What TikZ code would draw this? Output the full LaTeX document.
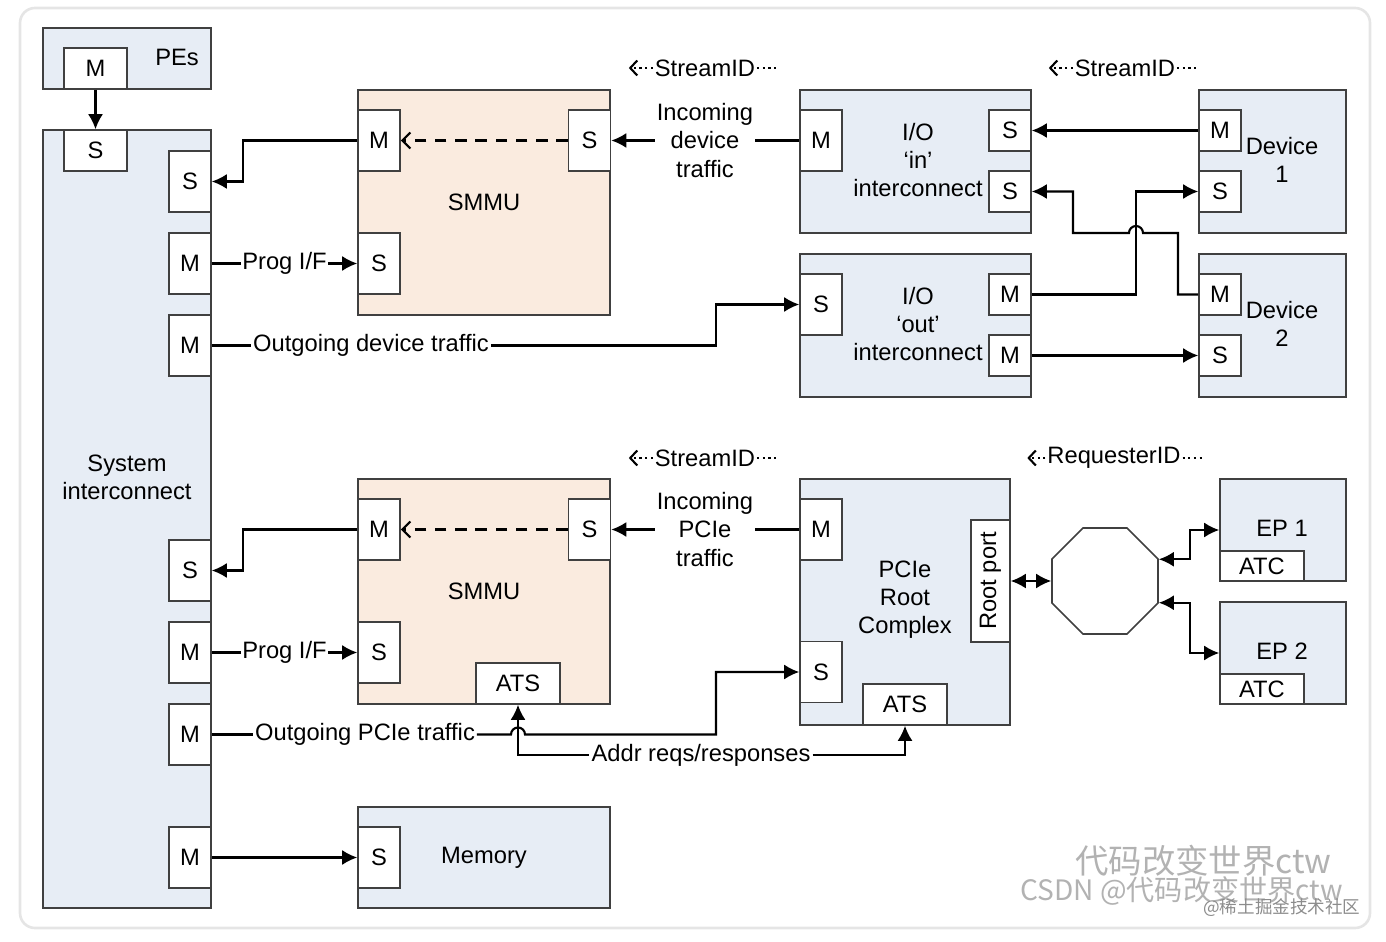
\documentclass[tikz,border=0pt]{standalone}
\usepackage{fontspec}
\setmainfont{Liberation Sans}
\newfontfamily\cjkfont{Noto Sans CJK SC}
\usetikzlibrary{arrows.meta,shapes.geometric}

\definecolor{blkblue}{HTML}{E7EDF5}
\definecolor{blkpeach}{HTML}{FAEBDF}
\definecolor{edgegray}{HTML}{404040}

\begin{document}
\begin{tikzpicture}[x=0.02cm,y=-0.02cm,
  font=\fontsize{13.5}{16}\selectfont,
  blk/.style={draw=edgegray,line width=0.9pt,inner sep=0pt},
  port/.style={draw=edgegray,line width=0.9pt,fill=white,minimum width=0.84cm,minimum height=1.22cm,inner sep=0pt},
  sport/.style={port,minimum height=0.82cm},
  lbl/.style={inner sep=1pt,align=center},
  wire/.style={line width=1.2pt},
  arr/.style={wire,-{Latex[length=3mm,width=3mm]}},
  dbl/.style={wire,{Latex[length=3mm,width=3mm]}-{Latex[length=3mm,width=3mm]}},
  dsh/.style={wire,dash pattern=on 6.5pt off 5pt,-{Straight Barb[length=1.6mm,width=3.2mm]}},
  dots/.style={line width=1.2pt,dotted},
  wmark/.style={text=black!30,inner sep=0pt,anchor=west}]
\useasboundingbox (0,0) rectangle (1386,942);
\draw[draw=black!10,line width=1.5pt,rounded corners=0.3cm] (20,8) rectangle (1370,928);

% PEs and system interconnect
\node[blk,fill=blkblue,minimum width=3.36cm,minimum height=1.22cm] (pes) at (127,58.5) {};
\node[lbl] (pesl) at (177,57) {PEs};
\node[sport,minimum width=1.26cm] (pesM) at (95.5,68.5) {M};
\node[blk,fill=blkblue,minimum width=3.36cm,minimum height=15.56cm] (sys) at (127,519) {};
\node[lbl] (sysl) at (127,477) {System\\interconnect};
\node[sport,minimum width=1.26cm] (sysS) at (95.5,150.5) {S};
\node[port] (sysS1) at (190,181.5) {S};
\node[port] (sysM1) at (190,263.5) {M};
\node[port] (sysM2) at (190,345.5) {M};
\node[port] (sysS2) at (190,570.5) {S};
\node[port] (sysM3) at (190,652.5) {M};
\node[port] (sysM4) at (190,734.5) {M};
\node[port] (sysM5) at (190,857.5) {M};
\draw[arr] (pesM) -- (sysS);

% SMMUs and memory
\node[blk,fill=blkpeach,minimum width=5.04cm,minimum height=4.5cm] (smmuA) at (484,202.5) {SMMU};
\node[port] (smmuAM) at (379,140.5) {M};
\node[port] (smmuAS) at (589.5,140.5) {S};
\node[port] (smmuAP) at (379,263.5) {S};
\node[blk,fill=blkpeach,minimum width=5.04cm,minimum height=4.5cm] (smmuB) at (484,591.5) {SMMU};
\node[port] (smmuBM) at (379,529.5) {M};
\node[port] (smmuBS) at (589.5,529.5) {S};
\node[port] (smmuBP) at (379,652.5) {S};
\node[sport,minimum width=1.68cm] (smmuBats) at (518,683.5) {ATS};
\node[blk,fill=blkblue,minimum width=5.04cm,minimum height=2.02cm] (mem) at (484,857.5) {Memory};
\node[port] (memS) at (379,857.5) {S};

% I/O interconnects and devices
\node[blk,fill=blkblue,minimum width=4.62cm,minimum height=2.86cm] (ioin) at (915.5,161.5) {};
\node[lbl] (ioinl) at (918,160) {I/O\\`in'\\interconnect};
\node[port] (ioinM) at (821,140.5) {M};
\node[sport] (ioinS1) at (1010,130.5) {S};
\node[sport] (ioinS2) at (1010,191.5) {S};
\node[blk,fill=blkblue,minimum width=4.62cm,minimum height=2.86cm] (ioout) at (915.5,325.5) {};
\node[lbl] (ioutl) at (918,324) {I/O\\`out'\\interconnect};
\node[port] (iooutS) at (821,304.5) {S};
\node[sport] (iooutM1) at (1010,294.5) {M};
\node[sport] (iooutM2) at (1010,355.5) {M};
\node[blk,fill=blkblue,minimum width=2.94cm,minimum height=2.86cm] (dev1) at (1272.5,161.5) {};
\node[lbl] (dev1l) at (1282,160) {Device\\1};
\node[sport] (dev1M) at (1220,130.5) {M};
\node[sport] (dev1S) at (1220,191.5) {S};
\node[blk,fill=blkblue,minimum width=2.94cm,minimum height=2.86cm] (dev2) at (1272.5,325.5) {};
\node[lbl] (dev2l) at (1282,324) {Device\\2};
\node[sport] (dev2M) at (1220,294.5) {M};
\node[sport] (dev2S) at (1220,355.5) {S};

% PCIe side
\node[blk,fill=blkblue,minimum width=4.2cm,minimum height=4.92cm] (rc) at (905,602) {};
\node[lbl] (rcl) at (905,600) {PCIe\\Root\\Complex};
\node[port] (rcM) at (821,529.5) {M};
\node[port] (rcS) at (821,672) {S};
\node[sport,minimum width=1.68cm] (rcats) at (905,704.5) {ATS};
\node[port,minimum width=2.44cm,minimum height=0.78cm,rotate=90] (rport) at (990.5,581) {Root port};
\node[draw=edgegray,line width=0.9pt,fill=white,regular polygon,regular polygon sides=8,minimum size=2.296cm,inner sep=0pt] (oct) at (1105,581) {};
\node[blk,fill=blkblue,minimum width=2.52cm,minimum height=2.04cm] (ep1) at (1283,530) {};
\node[lbl] (ep1l) at (1282,528) {EP 1};
\node[port,minimum width=1.68cm,minimum height=0.6cm] (ep1atc) at (1262,566) {ATC};
\node[blk,fill=blkblue,minimum width=2.52cm,minimum height=2.04cm] (ep2) at (1283,653) {};
\node[lbl] (ep2l) at (1282,651) {EP 2};
\node[port,minimum width=1.68cm,minimum height=0.6cm] (ep2atc) at (1262,689) {ATC};

% labels
\node[lbl] (inA) at (705,140.5) {Incoming\\device\\traffic};
\node[lbl] (inB) at (705,529.5) {Incoming\\PCIe\\traffic};
\node[lbl] (outA) at (371,345.5) {Outgoing device traffic};
\node[lbl] (outB) at (365,734.5) {Outgoing PCIe traffic};
\node[lbl] (addr) at (701,755) {Addr reqs/responses};
\node[lbl] (sidA) at (705,68) {StreamID};
\node[lbl] (sidB) at (1125,68) {StreamID};
\node[lbl] (sidC) at (705,458) {StreamID};
\node[lbl] (ridD) at (1114,458) {RequesterID};
\coordinate (bendA) at (716,0);
\coordinate (hopA) at (1136,233);
\coordinate (bendB) at (1178,233);
\coordinate (bendC) at (1073,233);
\coordinate (hopB) at (518,734.5);
\coordinate (bendD) at (716,734.5);

% top half
\draw[arr] (smmuAM.west) -- ++(-114,0) |- (sysS1.east);
\draw[dsh] (smmuAS.west) -- (smmuAM.east);
\draw[wire] (ioinM.west) -- (inA.east);
\draw[arr] (inA.west) -- (smmuAS.east);
\draw[arr] (sysM1.east) -- node[lbl,fill=white] (progA) {Prog I/F} (smmuAP.west);
\draw[wire] (sysM2.east) -- (outA.west);
\draw[arr] (outA.east) -- (bendA |- outA.east) |- (iooutS.west);
\draw[arr] (dev1M.west) -- (ioinS1.east);
\draw[arr] (iooutM1.east) -| (hopA) |- (dev1S.west);
\draw[arr] (dev2M.west) -| (bendB) -- ([xshift=0.14cm]hopA) arc[start angle=0,end angle=180,radius=0.14cm] -- (bendC) |- (ioinS2.east);
\draw[arr] (iooutM2.east) -- (dev2S.west);

% bottom half
\draw[arr] (smmuBM.west) -- ++(-114,0) |- (sysS2.east);
\draw[dsh] (smmuBS.west) -- (smmuBM.east);
\draw[wire] (rcM.west) -- (inB.east);
\draw[arr] (inB.west) -- (smmuBS.east);
\draw[arr] (sysM3.east) -- node[lbl,fill=white] (progB) {Prog I/F} (smmuBP.west);
\draw[wire] (sysM4.east) -- (outB.west);
\draw[arr] (outB.east) -- ([xshift=-0.14cm]hopB) arc[start angle=180,end angle=0,radius=0.14cm] -- (bendD) |- (rcS.west);
\draw[wire,{Latex[length=3mm,width=3mm]}-] (smmuBats.south) |- (addr.west);
\draw[arr] (addr.east) -| (rcats.south);
\draw[arr] (sysM5.east) -- (memS.west);
\draw[dbl] (rport) -- (oct);
\draw[dbl] (oct.22.5) -- ++(31,0) |- (ep1.west);
\draw[dbl] (oct.-22.5) -- ++(31,0) |- (ep2.west);

% id markers
\foreach \n in {sidA,sidB,sidC} {
  \draw[dots,-{Straight Barb[length=1.4mm,width=3mm]}] (\n.west) -- ++(-24,0);
  \draw[dots] (\n.east) -- ++(20,0);
}
\draw[dots,-{Straight Barb[length=1.4mm,width=3mm]}] (ridD.west) -- ++(-18,0);
\draw[dots] (ridD.east) -- ++(20,0);

% watermark
\node[wmark,font=\cjkfont\fontsize{19}{21}\selectfont] (wm1) at (1075,861) {代码改变世界ctw};
\node[wmark,font=\cjkfont\fontsize{16}{18}\selectfont] (wm2) at (1020,891) {CSDN @代码改变世界ctw};
\node[wmark,text=black!45,font=\cjkfont\fontsize{10}{12}\selectfont] (wm3) at (1203,908) {@稀土掘金技术社区};
\end{tikzpicture}
\end{document}
